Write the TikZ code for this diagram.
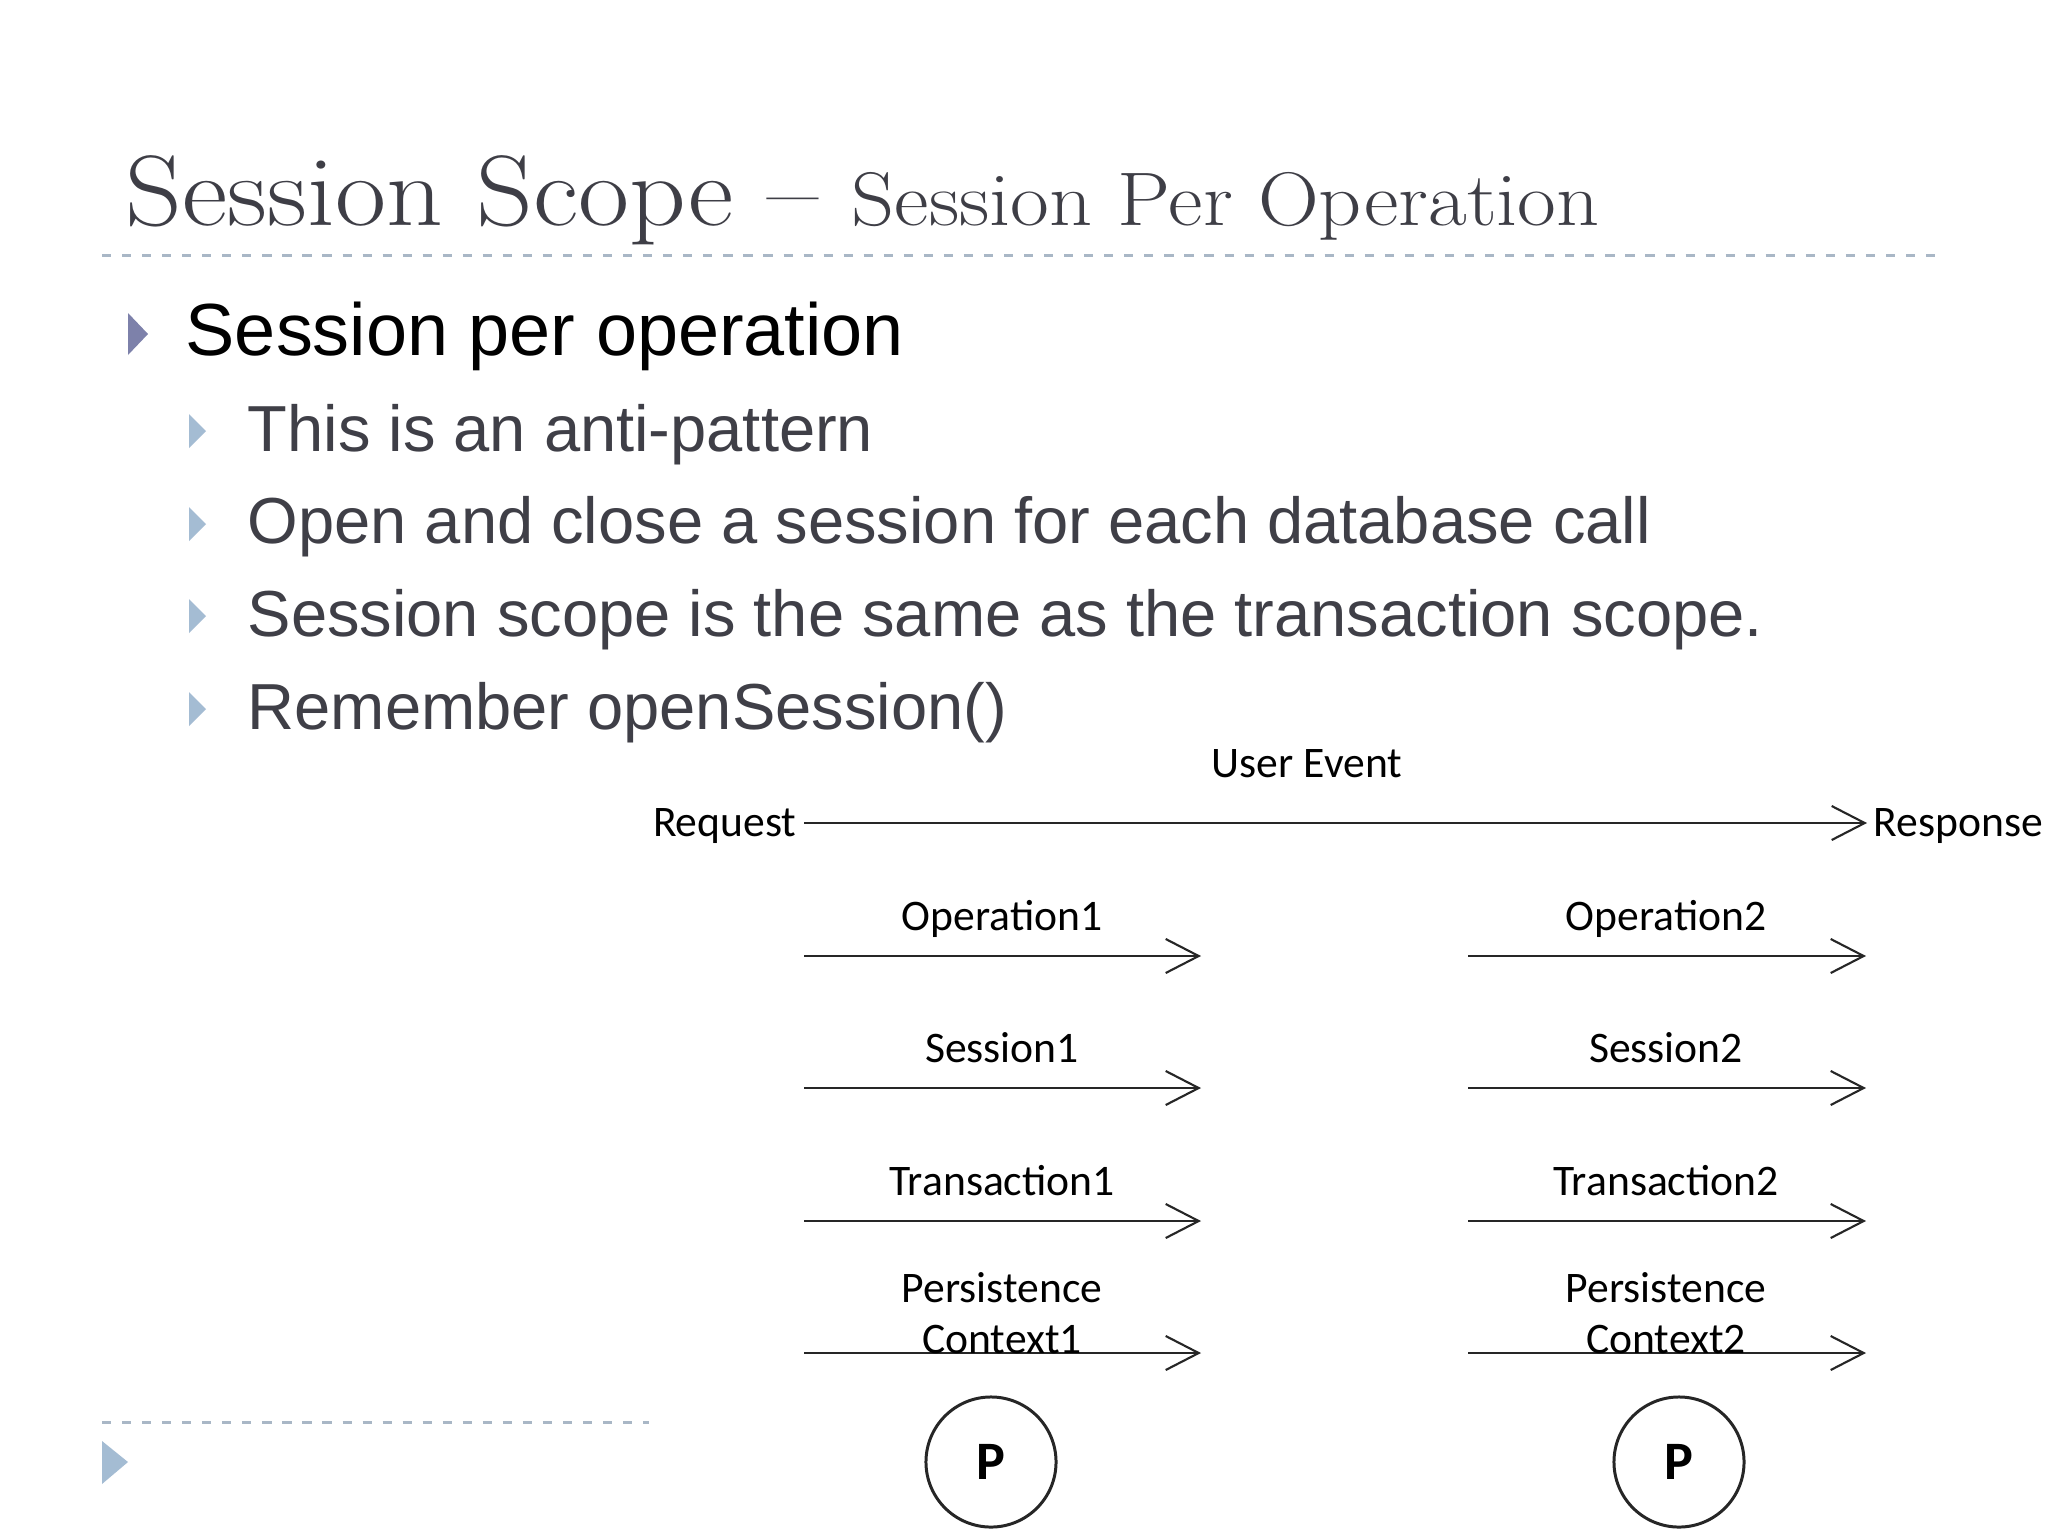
\documentclass[tikz,border=0pt]{standalone}
\usepackage{fontspec}
\usepackage{graphicx}
\newfontfamily\arialf{Liberation Sans}
\newfontfamily\calf{Carlito}
\usetikzlibrary{arrows.meta}
\definecolor{titlec}{HTML}{3E3E46}
\definecolor{subtext}{HTML}{3F3F47}
\definecolor{bulA}{HTML}{7D81AA}
\definecolor{bulB}{HTML}{A4BCD3}
\definecolor{dashc}{HTML}{A9B7C6}
\begin{document}
\begin{tikzpicture}[x=0.01cm,y=-0.01cm,
  dashline/.style={draw=dashc,line width=0.85pt,dash pattern=on 2.6pt off 3.1pt},
  bulletone/.style={font=\arialf\fontsize{21}{25}\selectfont,text=black,inner sep=0pt,anchor=base west},
  bullettwo/.style={font=\arialf\fontsize{18.5}{22}\selectfont,text=subtext,inner sep=0pt,anchor=base west},
  lbl/.style={font=\calf\fontsize{12.4}{14.5}\selectfont,text=black,inner sep=0pt,anchor=base},
  arr/.style={line width=0.6pt,black!85,-{Straight Barb[length=3.3mm,width=3.4mm,line width=0.6pt]}},
  pcirc/.style={circle,draw=black!85,line width=0.85pt,minimum size=1.3cm,inner sep=0pt,
     font=\calf\bfseries\fontsize{15.4}{18}\selectfont}]
\useasboundingbox[fill=white] (0,0) rectangle (2048,1536);

% title
\node[anchor=base west,inner sep=0pt,text=titlec,font=\fontsize{28.45}{34}\selectfont] (title) at (125,225)
  {\scalebox{1.11}[1]{Session Scope -- {\fontsize{21.6}{26}\selectfont Session Per Operation}}};
\draw[dashline] (102,255) -- (1946,255);

% bullets
\fill[bulA] (128,313) -- (148,334) -- (128,355) -- cycle;
\node[bulletone] (b1) at (185,355) {Session per operation};

\fill[bulB] (189,414) -- (206,431) -- (189,448) -- cycle;
\node[bullettwo] (s1) at (247,451) {This is an anti-pattern};
\fill[bulB] (189,507) -- (206,524) -- (189,541) -- cycle;
\node[bullettwo] (s2) at (247,543) {Open and close a session for each database call};
\fill[bulB] (189,599) -- (206,616) -- (189,633) -- cycle;
\node[bullettwo] (s3) at (247,636) {Session scope is the same as the transaction scope.};
\fill[bulB] (189,692) -- (206,709) -- (189,726) -- cycle;
\node[bullettwo] (s4) at (247,729) {Remember openSession()};

% footer
\draw[dashline] (102,1422) -- (649,1422);
\fill[bulB] (102,1441) -- (128,1462) -- (102,1484) -- cycle;

% diagram
\node[lbl] (ue) at (1307,777) {User Event};
\node[lbl,anchor=base east] (req) at (797,836) {Request};
\node[lbl,anchor=base west] (resp) at (1873,836) {Response};
\coordinate (reqs) at (804,823);
\coordinate (resps) at (1867,823);
\draw[arr] (reqs) -- (resps);

% left column
\node[lbl] (op1) at (1002,930) {Operation1};
\coordinate (op1a) at (804,956); \coordinate (op1b) at (1201,956);
\draw[arr] (op1a) -- (op1b);
\node[lbl] (se1) at (1002,1062) {Session1};
\coordinate (se1a) at (804,1088); \coordinate (se1b) at (1201,1088);
\draw[arr] (se1a) -- (se1b);
\node[lbl] (tr1) at (1002,1195) {Transaction1};
\coordinate (tr1a) at (804,1221); \coordinate (tr1b) at (1201,1221);
\draw[arr] (tr1a) -- (tr1b);
\node[lbl] (pc1a) at (1002,1302) {Persistence};
\coordinate (pc1s) at (804,1353); \coordinate (pc1e) at (1201,1353);
\draw[arr] (pc1s) -- (pc1e);
\node[lbl] (pc1b) at (1002,1353) {Context1};
\node[pcirc] (p1) at (991,1462) {P};

% right column
\node[lbl] (op2) at (1666,930) {Operation2};
\coordinate (op2a) at (1468,956); \coordinate (op2b) at (1866,956);
\draw[arr] (op2a) -- (op2b);
\node[lbl] (se2) at (1666,1062) {Session2};
\coordinate (se2a) at (1468,1088); \coordinate (se2b) at (1866,1088);
\draw[arr] (se2a) -- (se2b);
\node[lbl] (tr2) at (1666,1195) {Transaction2};
\coordinate (tr2a) at (1468,1221); \coordinate (tr2b) at (1866,1221);
\draw[arr] (tr2a) -- (tr2b);
\node[lbl] (pc2a) at (1666,1302) {Persistence};
\coordinate (pc2s) at (1468,1353); \coordinate (pc2e) at (1866,1353);
\draw[arr] (pc2s) -- (pc2e);
\node[lbl] (pc2b) at (1666,1353) {Context2};
\node[pcirc] (p2) at (1679,1462) {P};
\end{tikzpicture}
\end{document}
